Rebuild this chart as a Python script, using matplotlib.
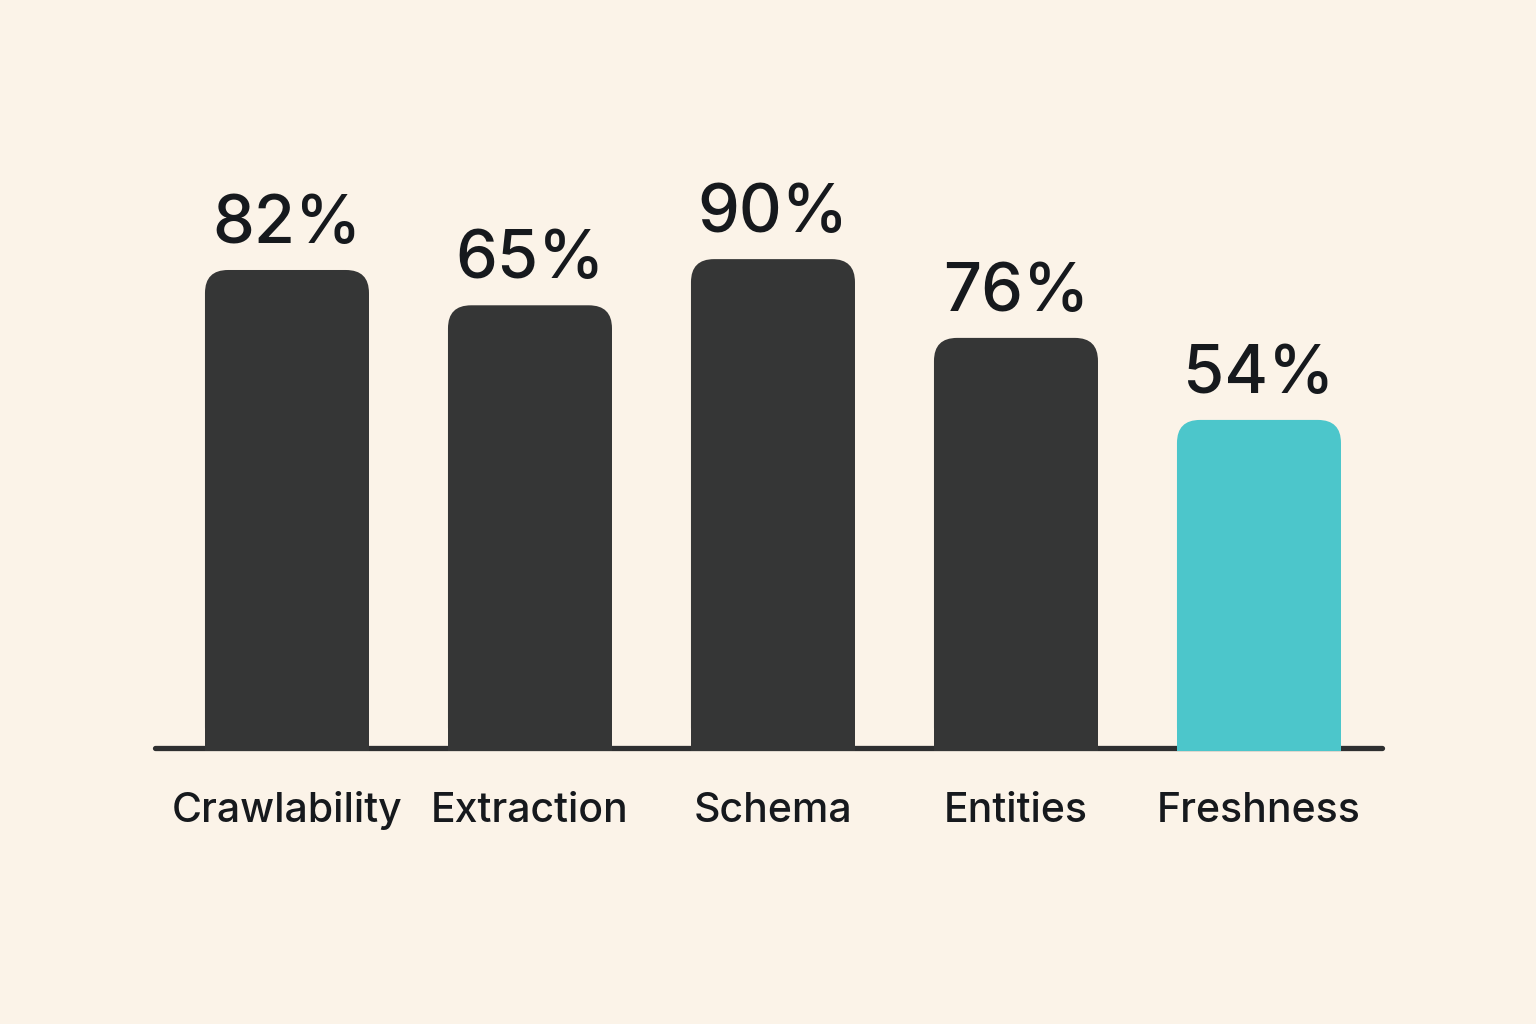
"""bar chart: audit scores"""
import numpy as np
import matplotlib.pyplot as plt
from matplotlib.patches import FancyBboxPatch, Rectangle

# data
categories = ['Crawlability', 'Extraction', 'Schema', 'Entities', 'Freshness']
labels = ['82%', '65%', '90%', '76%', '54%']
heights = [88.0, 81.5, 90.0, 75.5, 60.4]   # bar lengths as drawn

bg = '#fbf3e8'
dark = '#353636'
cyan = '#4cc6cb'
ink = '#16191d'
colors = [dark, dark, dark, dark, cyan]

plt.rcParams['font.family'] = ['Inter', 'DejaVu Sans']

fig = plt.figure(figsize=(15.36, 10.24), dpi=100, facecolor=bg)
ax = fig.add_axes([0, 0, 1, 1])
ax.set_facecolor(bg)
ax.set_xlim(-1.181, 5.140)
ax.set_ylim(-50.8, 137.7)
ax.axis('off')

# px per data unit, for rounded corners
xpx = 1536 / (5.140 + 1.181)
ypx = 1024 / (137.7 + 50.8)
aspect = xpx / ypx

width = 0.675
rad = 0.095
x = np.arange(len(categories))

# baseline
ax.plot([-0.543, 4.506], [0, 0], color='#2e2f30', lw=3.8,
        solid_capstyle='round', zorder=1)

for i, h in enumerate(heights):
    left = x[i] - width / 2
    box = FancyBboxPatch((left, -0.5), width, h + 0.5,
                         boxstyle=f'round,pad=0,rounding_size={rad}',
                         mutation_aspect=aspect, fc=colors[i], ec='none',
                         zorder=2)
    ax.add_patch(box)
    ax.add_patch(Rectangle((left, -0.5), width, h * 0.5,
                           fc=colors[i], ec='none', zorder=2))
    ax.text(x[i], h + 5.0, labels[i], ha='center', va='baseline',
            fontsize=48, fontweight='medium', color=ink)
    ax.text(x[i], -13.6, categories[i], ha='center', va='baseline',
            fontsize=29.5, fontweight='medium', color=ink)

plt.savefig('out.png', dpi=100, facecolor=bg)
